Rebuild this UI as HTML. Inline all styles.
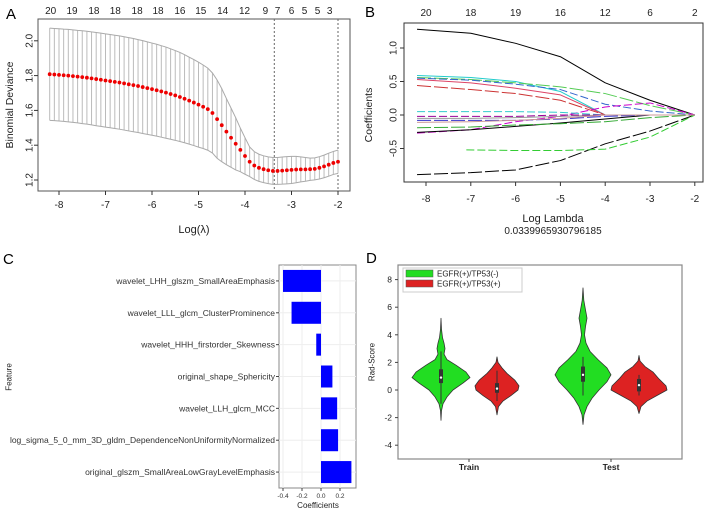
<!DOCTYPE html>
<html><head><meta charset="utf-8">
<style>
html,body{margin:0;padding:0;background:#fff;}
svg{display:block;font-family:"Liberation Sans",Arial,sans-serif;}
</style></head>
<body>
<svg id="fig" width="709" height="511" viewBox="0 0 709 511" xmlns="http://www.w3.org/2000/svg">
<text x="6" y="19" font-size="15">A</text>
<text x="365" y="17" font-size="15">B</text>
<text x="3" y="264" font-size="15">C</text>
<text x="366" y="263" font-size="15">D</text>
<g id="pa"></g>
<g id="pb"></g>
<g id="pc"></g>
<g id="pd"></g>
</svg>
<script>
// ===== Panel A data =====
const aLogLambda0 = -8.2;
const aStep = 0.1;
const aMean = [1.808,1.806,1.804,1.802,1.800,1.797,1.794,1.791,1.788,1.784,
1.780,1.776,1.772,1.768,1.764,1.760,1.755,1.750,1.745,1.740,
1.734,1.728,1.722,1.716,1.709,1.702,1.694,1.686,1.677,1.667,
1.656,1.645,1.633,1.621,1.607,1.585,1.550,1.515,1.478,1.443,
1.408,1.373,1.338,1.305,1.283,1.270,1.262,1.256,1.252,1.252,
1.254,1.256,1.258,1.260,1.261,1.261,1.262,1.264,1.270,1.278,
1.288,1.298,1.305];
const aSD = [.265,.265,.265,.265,.266,.266,.266,.267,.267,.267,
.268,.268,.268,.268,.268,.268,.268,.268,.268,.267,
.267,.266,.265,.264,.263,.262,.260,.258,.256,.253,
.250,.247,.244,.240,.236,.230,.225,.210,.190,.170,
.150,.125,.105,.085,.080,.078,.077,.077,.077,.077,
.078,.078,.078,.076,.072,.068,.064,.063,.064,.065,
.066,.066,.067];
const aXTicks = [-8,-7,-6,-5,-4,-3,-2];
const aYTicks = [1.2,1.4,1.6,1.8,2.0];
const aTopLabels = ["20","19","18","18","18","18","16","15","14","12","9","7","6","5","5","3"];
const aTopPos = [-8.18,-7.72,-7.25,-6.79,-6.32,-5.87,-5.4,-4.95,-4.48,-4.01,-3.56,-3.3,-3.0,-2.72,-2.44,-2.18];
const aVLines = [-3.37,-2.0];

// ===== Panel B data =====
const bX = [-8.2,-7,-6,-5,-4,-3,-2];
const bXTicks = [-8,-7,-6,-5,-4,-3,-2];
const bYTicks = [-0.5,0,0.5,1.0];
const bTopLabels = ["20","18","19","16","12","6","2"];
const bPaths = [
 [1.28,1.22,1.07,0.87,0.48,0.22,0],
 [-0.89,-0.86,-0.82,-0.68,-0.43,-0.24,0],
 [null,-0.52,-0.53,-0.53,-0.51,-0.33,0],
 [0.59,0.56,0.50,0.35,0.0,0,0],
 [0.56,0.53,0.48,0.42,0.32,0.14,0],
 [0.55,0.52,0.46,0.38,0.16,0.06,0],
 [0.53,0.48,0.40,0.30,0.0,0,0],
 [0.44,0.38,0.32,0.22,0.0,0,0],
 [-0.27,-0.22,-0.10,-0.02,0.12,0.18,0],
 [-0.26,-0.22,-0.17,-0.12,-0.06,0,0],
 [-0.19,-0.18,-0.15,-0.13,-0.10,-0.04,0],
 [0.05,0.05,0.05,0.04,0,0,0],
 [-0.05,-0.05,-0.04,-0.02,0,0,0],
 [-0.08,-0.08,-0.08,-0.06,-0.02,0,0],
 [-0.02,-0.02,-0.02,0,0,0,0],
 [-0.11,-0.10,-0.08,-0.05,0,0,0]
];
const bColors = ["#000","#000","#3c3","#2cc","#5c5","#36c","#d46","#c33","#c0c","#000","#3a3","#3cc","#999","#33c","#909","#c99"];

// ===== Panel C data =====
const cFeatures = ["wavelet_LHH_glszm_SmallAreaEmphasis","wavelet_LLL_glcm_ClusterProminence","wavelet_HHH_firstorder_Skewness","original_shape_Sphericity","wavelet_LLH_glcm_MCC","log_sigma_5_0_mm_3D_gldm_DependenceNonUniformityNormalized","original_glszm_SmallAreaLowGrayLevelEmphasis"];
const cCoefs = [-0.40,-0.31,-0.05,0.12,0.17,0.18,0.32];
const cTicks = [-0.4,-0.2,0.0,0.2];
const cTickLabels = ["-0.4","-0.2","0.0","0.2"];

// ===== Panel D data =====
const dGroups = ["Train","Test"];
const dYTicks = [-4,-2,0,2,4,6,8];
const vTrainPosY = [-2.2,-1.5,-1,-0.5,0,0.5,0.9,1.3,1.8,2.2,2.6,3.0,3.4,3.8,4.4,5.2];
const vTrainPosW = [0,0.5,2,6,12,22,29,25,15,6,3,4,3,1.5,0.5,0];
const vTrainNegY = [-1.8,-1.2,-0.8,-0.4,0,0.3,0.7,1.2,1.6,2.0,2.4];
const vTrainNegW = [0,1.5,6,14,21,22,18,10,5,1,0];
const vTestPosY = [-2.5,-1.8,-1.2,-0.6,0,0.6,1.1,1.6,2.2,2.8,3.4,4.0,4.6,5.2,5.8,6.5,7.4];
const vTestPosW = [0,1,4,9,16,24,28,24,15,7,3,1.5,2.5,4,2.5,0.8,0];
const vTestNegY = [-1.7,-1.2,-0.8,-0.4,0,0.3,0.8,1.3,1.7,2.1,2.5];
const vTestNegW = [0,2,8,18,28,27,20,14,6,1,0];
const dBoxes = [ // [whiskerLow, q1, median, q3, whiskerHigh]
 [-1.0,0.5,0.9,1.5,2.8],
 [-0.8,-0.2,0.1,0.5,1.4],
 [-0.4,0.6,1.1,1.7,2.4],
 [-0.4,-0.1,0.35,0.8,1.1]
];

const NS="http://www.w3.org/2000/svg";
function mk(parent,tag,attrs,text){const e=document.createElementNS(NS,tag);for(const k in attrs)e.setAttribute(k,attrs[k]);if(text!==undefined)e.textContent=text;parent.appendChild(e);return e;}

// ---------- Panel A ----------
(function(){
 const g=document.getElementById('pa');
 const L=38,R=350,T=19,B=191;
 const xA=v=>59+(v+8)*46.5;
 const yA=v=>180-(v-1.2)*174;
 let e=mk(g,'rect',{x:L,y:T,width:R-L,height:B-T,fill:'none',stroke:'#555','stroke-width':1});
 
 aXTicks.forEach(t=>{
  mk(g,'line',{x1:xA(t),x2:xA(t),y1:B,y2:B+4,stroke:'#333'});
  let tx=mk(g,'text',{x:xA(t),y:B+17,'font-size':10,'text-anchor':'middle',fill:'#222'},String(t));
  
 });
 aYTicks.forEach(t=>{
  mk(g,'line',{x1:L-4,x2:L,y1:yA(t),y2:yA(t),stroke:'#333'});
  let tx=mk(g,'text',{x:L-8,y:yA(t),'font-size':10,'text-anchor':'middle',fill:'#222',transform:`rotate(-90 ${L-8} ${yA(t)})`,'dominant-baseline':'central'},t.toFixed(1));
  
 });
 aTopLabels.forEach((s,i)=>{
  let tx=mk(g,'text',{x:xA(aTopPos[i]),y:14,'font-size':10,'text-anchor':'middle',fill:'#222'},s);
  
 });
 aVLines.forEach(v=>{
  let l=mk(g,'line',{x1:xA(v),x2:xA(v),y1:T,y2:B,stroke:'#666','stroke-dasharray':'2,2'});
  
 });
 let up='',lo='';
 aMean.forEach((m,i)=>{
  const x=xA(aLogLambda0+i*aStep), yu=yA(m+aSD[i]), yl=yA(m-aSD[i]);
  let eb=mk(g,'line',{x1:x,x2:x,y1:yu,y2:yl,stroke:'#bbb','stroke-width':1});
  
  up+=(i?'L':'M')+x+','+yu; lo+=(i?'L':'M')+x+','+yl;
 });
 mk(g,'path',{d:up,fill:'none',stroke:'#aaa'});
 mk(g,'path',{d:lo,fill:'none',stroke:'#aaa'});
 aMean.forEach((m,i)=>{
  let c=mk(g,'circle',{cx:xA(aLogLambda0+i*aStep),cy:yA(m),r:1.9,fill:'#e00'});
  
 });
 let xt=mk(g,'text',{x:194,y:233,'font-size':11,'text-anchor':'middle',fill:'#222'},'Log(λ)');
 
 let yt=mk(g,'text',{x:10,y:105,'font-size':10.5,'text-anchor':'middle',fill:'#222',transform:'rotate(-90 10 105)','dominant-baseline':'central'},'Binomial Deviance');
 
})();

// ---------- Panel B ----------
(function(){
 const g=document.getElementById('pb');
 const L=404,R=703,T=23,B=182;
 const xB=v=>426+(v+8)*44.8;
 const yB=v=>115-v*67;
 let e=mk(g,'rect',{x:L,y:T,width:R-L,height:B-T,fill:'none',stroke:'#333'});
 
 bXTicks.forEach(t=>{
  mk(g,'line',{x1:xB(t),x2:xB(t),y1:B,y2:B+4,stroke:'#333'});
  let tx=mk(g,'text',{x:xB(t),y:B+20,'font-size':10,'text-anchor':'middle',fill:'#222'},String(t));
  
 });
 bYTicks.forEach(t=>{
  mk(g,'line',{x1:L-4,x2:L,y1:yB(t),y2:yB(t),stroke:'#333'});
  let tx=mk(g,'text',{x:L-10,y:yB(t),'font-size':10,'text-anchor':'middle',fill:'#222',transform:`rotate(-90 ${L-10} ${yB(t)})`,'dominant-baseline':'central'},t.toFixed(1));
  
 });
 bTopLabels.forEach((s,i)=>{
  let tx=mk(g,'text',{x:xB(bXTicks[i]),y:16,'font-size':10,'text-anchor':'middle',fill:'#222'},s);
  
 });
 bPaths.forEach((p,k)=>{
  let d='',started=false;
  p.forEach((v,i)=>{ if(v===null)return; const x=(i===1&&p[0]===null)?xB(-7.1):xB(bX[i]); d+=(started?'L':'M')+x+','+yB(v); started=true;});
  let pl=mk(g,'path',{d:d,fill:'none',stroke:bColors[k],'stroke-width':1,'stroke-dasharray':k%3===0?'none':(k%3===1?'14,3':'8,3'),'stroke-linejoin':'round'});
  
 });
 let xt=mk(g,'text',{x:553,y:222,'font-size':11,'text-anchor':'middle',fill:'#222'},'Log Lambda');
 
 let sub=mk(g,'text',{x:553,y:234,'font-size':10,'text-anchor':'middle',fill:'#222'},'0.0339965930796185');
 
 let yt=mk(g,'text',{x:369,y:115,'font-size':10.5,'text-anchor':'middle',fill:'#222',transform:'rotate(-90 369 115)','dominant-baseline':'central'},'Coefficients');
 
})();

// ---------- Panel C ----------
(function(){
 const g=document.getElementById('pc');
 const L=279,R=356,T=265,B=488;
 const xC=v=>321+v*95;
 const band=(B-T)/cFeatures.length;
 const yC=i=>T+band*(i+0.5);
 let e=mk(g,'rect',{x:L,y:T,width:R-L,height:B-T,fill:'#fff',stroke:'#888'});
 
 cTicks.forEach(t=>mk(g,'line',{x1:xC(t),x2:xC(t),y1:T,y2:B,stroke:'#eee'}));
 cFeatures.forEach((f,i)=>mk(g,'line',{x1:L,x2:R,y1:yC(i),y2:yC(i),stroke:'#eee'}));
 cCoefs.forEach((v,i)=>{
  const x0=Math.min(xC(0),xC(v)),w=Math.abs(xC(v)-xC(0));
  let r=mk(g,'rect',{x:x0,y:yC(i)-11,width:w,height:22,fill:'#0000ff'});
  
  mk(g,'line',{x1:L-3,x2:L,y1:yC(i),y2:yC(i),stroke:'#444'});
  let tx=mk(g,'text',{x:L-4,y:yC(i),'font-size':8.5,'text-anchor':'end','dominant-baseline':'central',fill:'#333'},cFeatures[i]);
  
 });
 cTicks.forEach((t,i)=>{
  mk(g,'line',{x1:xC(t),x2:xC(t),y1:B,y2:B+3,stroke:'#444'});
  let tx=mk(g,'text',{x:xC(t),y:B+10,'font-size':6.5,'text-anchor':'middle',fill:'#333'},cTickLabels[i]);
  
 });
 let xt=mk(g,'text',{x:318,y:508,'font-size':8,'text-anchor':'middle',fill:'#222'},'Coefficients');
 
 let yt=mk(g,'text',{x:9,y:377,'font-size':8,'text-anchor':'middle',fill:'#222',transform:'rotate(-90 9 377)','dominant-baseline':'central'},'Feature');
 
})();

// ---------- Panel D ----------
(function(){
 const g=document.getElementById('pd');
 const L=398,R=682,T=265,B=459;
 const yD=v=>390-v*13.8;
 const centers=[441,497,583,639];
 const groupX=[469,611];
 let e=mk(g,'rect',{x:L,y:T,width:R-L,height:B-T,fill:'#fff',stroke:'#888','stroke-width':1.2});
 
 dYTicks.forEach(t=>{
  mk(g,'line',{x1:L-3,x2:L,y1:yD(t),y2:yD(t),stroke:'#444'});
  let tx=mk(g,'text',{x:L-6,y:yD(t),'font-size':8.5,'text-anchor':'end','dominant-baseline':'central',fill:'#222'},String(t));
  
 });
 dGroups.forEach((s,i)=>{
  mk(g,'line',{x1:groupX[i],x2:groupX[i],y1:B,y2:B+3,stroke:'#444'});
  let tx=mk(g,'text',{x:groupX[i],y:B+11,'font-size':8.5,'font-weight':'bold','text-anchor':'middle',fill:'#222'},s);
  
 });
 const vy=[vTrainPosY,vTrainNegY,vTestPosY,vTestNegY];
 const vw=[vTrainPosW,vTrainNegW,vTestPosW,vTestNegW];
 const fills=['#22dd22','#dd2222','#22dd22','#dd2222'];
 vy.forEach((ys,k)=>{
  const c=centers[k];let d='';
  ys.forEach((y,i)=>{d+=(i?'L':'M')+(c+vw[k][i])+','+yD(y);});
  for(let i=ys.length-1;i>=0;i--){d+='L'+(c-vw[k][i])+','+yD(ys[i]);}
  d+='Z';
  let p=mk(g,'path',{d:d,fill:fills[k],stroke:'#333','stroke-width':0.8,'stroke-linejoin':'round'});
  
  
  const b=dBoxes[k];
  mk(g,'line',{x1:c,x2:c,y1:yD(b[0]),y2:yD(b[4]),stroke:'#333','stroke-width':1});
  let bx=mk(g,'rect',{x:c-2,y:yD(b[3]),width:4,height:yD(b[1])-yD(b[3]),fill:'#333'});
  
  mk(g,'circle',{cx:c,cy:yD(b[2]),r:1.2,fill:'#fff'});
 });
 let lg=mk(g,'g',{});
 
 mk(lg,'rect',{x:403,y:268,width:119,height:24,fill:'#fff',stroke:'#ccc'});
 const lt=['EGFR(+)/TP53(-)','EGFR(+)/TP53(+)'];
 lt.forEach((s,i)=>{
  let r=mk(lg,'rect',{x:406,y:270+i*10,width:27,height:7,fill:fills[i],stroke:'#555','stroke-width':0.5});
  
  let tx=mk(lg,'text',{x:437,y:274+i*10,'font-size':8,'dominant-baseline':'central',fill:'#222'},s);
  
 });
 let yt=mk(g,'text',{x:372,y:362,'font-size':8,'text-anchor':'middle',fill:'#222',transform:'rotate(-90 372 362)','dominant-baseline':'central'},'Rad-Score');
 
})();
</script>
</body></html>
